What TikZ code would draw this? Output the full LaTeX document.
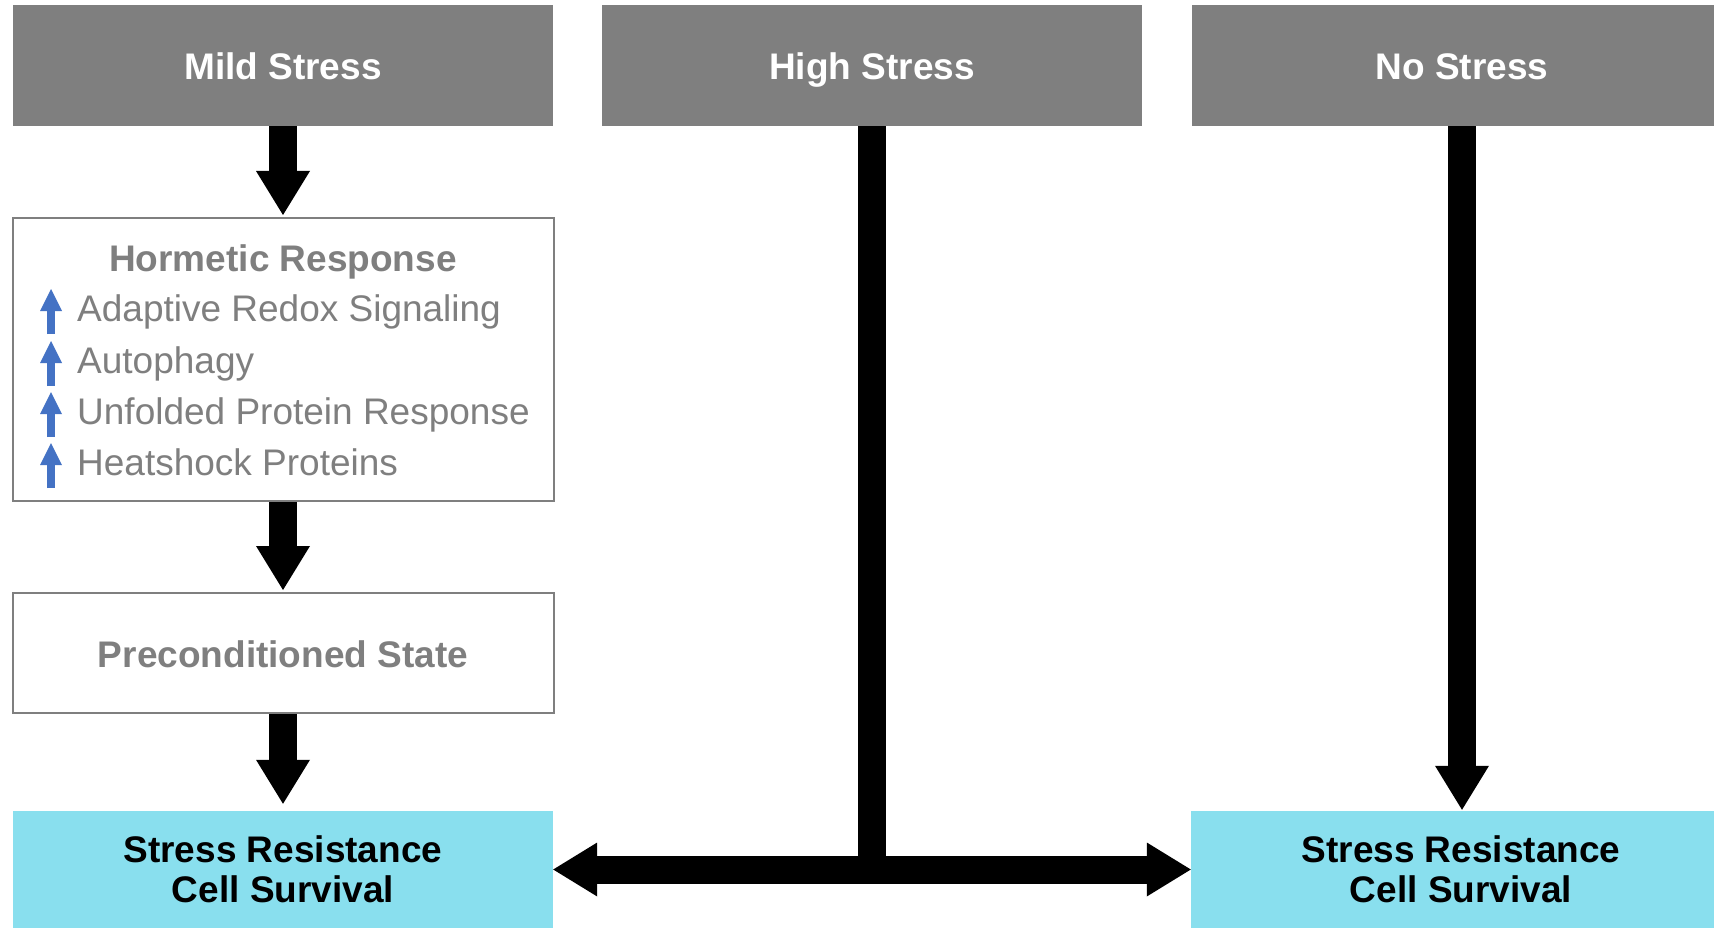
\documentclass[tikz,border=0pt]{standalone}
\usepackage{fontspec}
\setmainfont{Liberation Sans}
\usetikzlibrary{arrows.meta}

\definecolor{boxgray}{RGB}{127,127,127}
\definecolor{survcyan}{RGB}{137,223,238}
\definecolor{upblue}{RGB}{68,114,196}
\newcommand\bigfont[0]{\fontsize{37}{40}\selectfont}

\tikzset{
  capline/.style={text height=29pt, text depth=0pt},
  stressbox/.style={fill=boxgray, text=white, font=\bigfont\bfseries, capline,
    minimum width=540pt, minimum height=121pt, inner sep=0pt},
  framebox/.style={draw=boxgray, line width=2pt, fill=white,
    minimum width=541pt, inner sep=0pt},
  graytext/.style={text=boxgray, font=\bigfont, inner sep=0pt},
  survbox/.style={fill=survcyan, font=\bigfont\bfseries, align=center,
    minimum width=540pt, minimum height=117pt, inner sep=0pt},
  fatbar/.style={line width=28pt, line cap=butt},
  fatarrow/.style={fatbar, -{Triangle[width=54pt,length=44pt,line width=0pt]}, shorten >=2pt},
  upmark/.style={draw=upblue, line width=8pt, -{Triangle[width=22pt,length=22pt,line width=0pt,fill=upblue]}}
}

\begin{document}
\begin{tikzpicture}[x=1pt,y=-1pt]

\useasboundingbox (0,0) rectangle (1714,928);
\clip (0,0) rectangle (1714,928);

% stress levels
\node[stressbox] (mild) at (283,65.5) {Mild Stress};
\node[stressbox] (high) at (872,65.5) {High Stress};
\node[stressbox] (none) at (1462,65.5) {No Stress};

% mild stress column
\node[framebox, minimum height=283pt] (horm) at (283,359.5) {};
\node[graytext, font=\bigfont\bfseries, anchor=base] (hormtitle) at (283,272) {Hormetic Response};
\foreach \y/\txt [count=\i] in {321/Adaptive Redox Signaling, 373/Autophagy,
    424/Unfolded Protein Response, 475/Heatshock Proteins}{
  \node[graytext, anchor=base west] (item\i) at (77,\y) {\txt};
  \draw[upmark] (51,\y+13) -- (51,\y-32);
}
\node[framebox, minimum height=120pt, capline, text=boxgray, font=\bigfont\bfseries] (precond) at (283,653) {Preconditioned State};

% outcomes
\node[survbox] (survL) at (283,869.5) {Stress Resistance\\Cell Survival};
\node[survbox] (survR) at (1461,869.5) {Stress Resistance\\Cell Survival};

\draw[fatarrow] (mild) -- (horm);
\draw[fatarrow] (horm) -- (precond);
\draw[fatarrow, shorten >=7pt] (precond) -- (survL);

\coordinate (split) at (high.south |- survL.east);
\draw[fatbar] (high.south) -- (split);
\draw[fatarrow, shorten >=0pt] (split) -- (survL.east);
\draw[fatarrow, shorten >=0pt] (split) -- (survR.west);

\draw[fatarrow, shorten >=1pt] (none.south) -- (none.south |- survR.north);

\end{tikzpicture}
\end{document}
